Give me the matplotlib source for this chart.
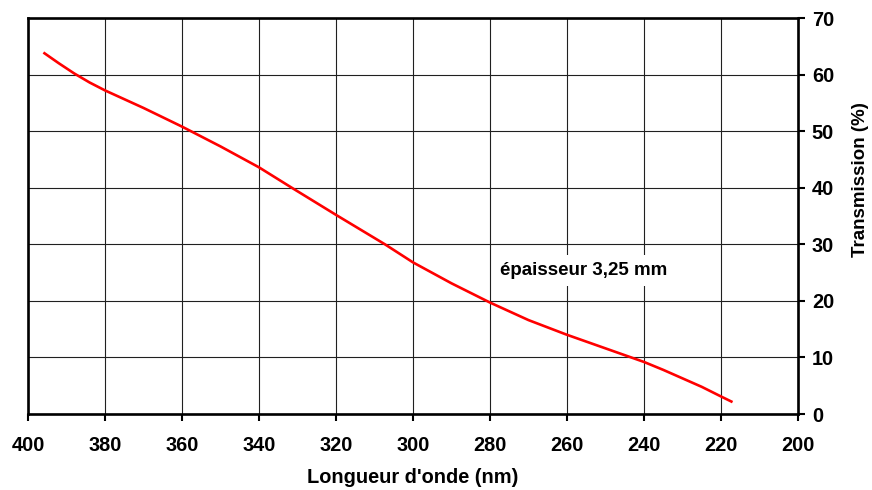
import matplotlib
matplotlib.use("Agg")
import matplotlib.pyplot as plt

plt.rcParams['font.family'] = ['Liberation Sans', 'DejaVu Sans']

wavelength = [396, 392, 388, 384, 380, 370, 360, 350, 340, 331.5, 320, 307.3, 300, 290,
              280, 270, 260, 250, 240, 235, 230, 225, 220, 217]
transmission = [63.9, 62.0, 60.2, 58.6, 57.2, 54.1, 50.8, 47.3, 43.6, 40.0, 35.2, 30.0, 26.8, 23.1,
                19.7, 16.6, 14.0, 11.6, 9.2, 7.8, 6.3, 4.8, 3.1, 2.1]
x_ticks = [400, 380, 360, 340, 320, 300, 280, 260, 240, 220, 200]
y_ticks = [0, 10, 20, 30, 40, 50, 60, 70]
annotation = "épaisseur 3,25 mm"

fig = plt.figure(figsize=(8.72, 4.9), dpi=100)
ax = fig.add_axes([28/872, 1-414/490, (798-28)/872, (414-18)/490])

ax.plot(wavelength, transmission, color='#ff0000', linewidth=1.9,
        solid_capstyle='butt', solid_joinstyle='round', zorder=3)

ax.set_xlim(400, 200)
ax.set_ylim(0, 70)
ax.set_xticks(x_ticks)
ax.set_yticks(y_ticks)
ax.yaxis.tick_right()
ax.yaxis.set_label_position('right')
ax.grid(True, color='#202020', linewidth=0.8, zorder=1)
ax.set_axisbelow(True)

for s in ax.spines.values():
    s.set_linewidth(1.9)
    s.set_color('black')

ax.tick_params(axis='both', direction='out', length=5, width=1.5, labelsize=14.4)
ax.tick_params(axis='x', pad=11)
ax.tick_params(axis='y', pad=5)
for lab in ax.get_xticklabels() + ax.get_yticklabels():
    lab.set_fontweight('bold')

fig.text(413/872, 1-477/490, "Longueur d'onde (nm)", ha='center', va='center',
         fontsize=14.4, fontweight='bold')
fig.text(860/872, 1-180/490, "Transmission (%)", ha='center', va='center',
         rotation=90, fontsize=13.5, fontweight='bold')

ax.text(277.4, 25.3, annotation, ha='left', va='center', fontsize=13.5, fontweight='bold',
        bbox=dict(facecolor='white', edgecolor='none', pad=5), zorder=4)

fig.savefig('out.png', dpi=100)
